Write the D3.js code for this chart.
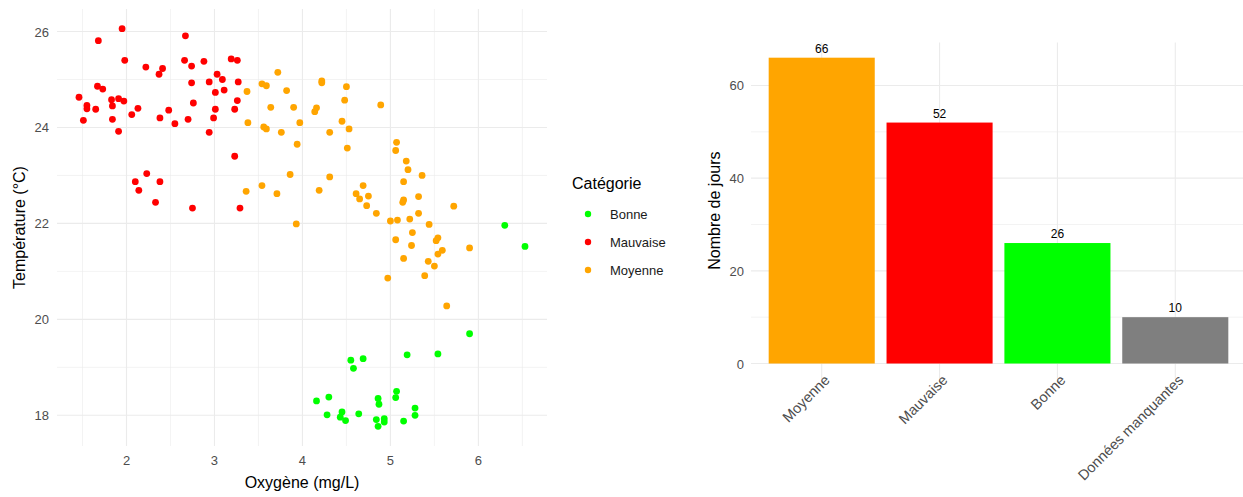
<!DOCTYPE html>
<html>
<head>
<meta charset="utf-8">
<script src="https://cdn.jsdelivr.net/npm/d3@7"></script>
<style>
  body { margin: 0; background: #fff; }
  svg { font-family: "Liberation Sans", Arial, sans-serif; }
</style>
</head>
<body>
<svg width="1243" height="497"></svg>
<script>
// scatter data: [oxygene, temperature]
var mauvaise = [
  [1.95,26.06],[1.68,25.81],[2.67,25.91],[1.98,25.40],[2.22,25.26],[2.41,25.23],[2.37,25.11],
  [2.66,25.40],[2.74,25.28],[2.88,25.38],[3.19,25.43],[3.26,25.40],[3.03,25.11],[3.09,25.00],
  [2.94,24.95],[2.74,24.93],[3.27,24.95],[3.01,24.73],[3.11,24.78],[1.67,24.86],[1.73,24.80],
  [1.46,24.63],[1.83,24.58],[1.91,24.60],[1.97,24.55],[1.55,24.46],[1.55,24.39],[1.65,24.38],
  [1.84,24.45],[2.13,24.40],[2.06,24.27],[1.51,24.15],[1.84,24.17],[1.91,23.92],[2.38,24.20],
  [2.48,24.36],[2.55,24.08],[2.70,24.17],[2.76,24.51],[2.99,24.20],[3.01,24.38],[2.94,23.90],
  [3.26,24.56],[3.23,24.38],[3.23,23.40],[2.23,23.04],[2.10,22.87],[2.38,22.87],[2.14,22.69],
  [2.33,22.44],[2.75,22.32],[3.29,22.32]
];
var moyenne = [
  [3.37,24.75],[3.38,24.10],[3.72,25.15],[3.54,24.91],[3.59,24.87],[3.82,24.77],[3.64,24.42],
  [3.90,24.42],[4.22,24.97],[4.22,24.93],[4.50,24.85],[4.48,24.57],[4.16,24.41],[4.14,24.33],
  [4.89,24.47],[4.45,24.13],[4.53,23.97],[4.31,23.90],[3.97,24.10],[3.56,24.01],[3.59,23.97],
  [3.76,23.90],[3.94,23.65],[4.51,23.57],[3.86,23.02],[4.31,22.97],[3.54,22.79],[3.36,22.67],
  [3.71,22.62],[4.19,22.69],[4.69,22.79],[4.61,22.62],[4.75,22.57],[4.65,22.51],[4.73,22.37],
  [4.84,22.21],[3.93,21.99],[5.07,23.69],[5.06,23.52],[5.18,23.30],[5.20,23.12],[5.36,23.00],
  [5.15,22.87],[5.32,22.56],[5.14,22.44],[5.15,22.49],[5.72,22.36],[5.00,22.05],[5.08,22.07],
  [5.22,22.09],[5.32,22.21],[5.44,21.98],[5.25,21.81],[5.06,21.66],[5.54,21.70],[5.52,21.64],
  [5.24,21.54],[5.59,21.44],[5.90,21.49],[5.54,21.36],[5.15,21.27],[5.43,21.21],[5.50,21.11],
  [5.39,20.91],[4.97,20.86],[5.64,20.28]
];
var bonne = [
  [6.30,21.96],[6.53,21.52],[5.90,19.70],[5.19,19.26],[5.54,19.28],[4.55,19.15],[4.69,19.18],
  [4.58,18.98],[5.07,18.50],[5.06,18.37],[4.16,18.30],[4.30,18.38],[4.86,18.35],[4.87,18.23],
  [5.28,18.15],[5.28,18.00],[4.28,18.01],[4.45,18.07],[4.43,17.96],[4.49,17.89],[4.64,18.03],
  [4.84,17.91],[4.93,17.93],[4.93,17.86],[4.86,17.77],[5.15,17.88]
];
var legendLabels = ["Bonne", "Mauvaise", "Moyenne"];
var xTicks = [2, 3, 4, 5, 6];
var yTicks = [18, 20, 22, 24, 26];

// bar data
var barCategories = ["Moyenne", "Mauvaise", "Bonne", "Données manquantes"];
var barCounts = [66, 52, 26, 10];
var barTicks = [0, 20, 40, 60];

var colors = { "Bonne": "#00ff00", "Mauvaise": "#ff0000", "Moyenne": "#ffa500", "Données manquantes": "#7f7f7f" };
var gridCol = "#ebebeb", tickCol = "#4d4d4d";

var svg = d3.select("svg");

// ---------- scatter ----------
var x = d3.scaleLinear().domain([1.21, 6.78]).range([57, 547]);
var y = d3.scaleLinear().domain([17.36, 26.47]).range([446, 9]);

var g1 = svg.append("g");
var xMinor = d3.range(1.5, 7, 1), yMinor = d3.range(19, 27, 2);

g1.selectAll(".vminor").data(xMinor).enter().append("line")
  .attr("x1", d => x(d)).attr("x2", d => x(d)).attr("y1", 9).attr("y2", 446)
  .attr("stroke", gridCol).attr("stroke-width", 0.6);
g1.selectAll(".hminor").data(yMinor).enter().append("line")
  .attr("y1", d => y(d)).attr("y2", d => y(d)).attr("x1", 57).attr("x2", 547)
  .attr("stroke", gridCol).attr("stroke-width", 0.6);
g1.selectAll(".vmajor").data(xTicks).enter().append("line")
  .attr("x1", d => x(d)).attr("x2", d => x(d)).attr("y1", 9).attr("y2", 446)
  .attr("stroke", gridCol).attr("stroke-width", 1.1);
g1.selectAll(".hmajor").data(yTicks).enter().append("line")
  .attr("y1", d => y(d)).attr("y2", d => y(d)).attr("x1", 57).attr("x2", 547)
  .attr("stroke", gridCol).attr("stroke-width", 1.1);

g1.selectAll(".xt").data(xTicks).enter().append("text")
  .attr("x", d => x(d)).attr("y", 465).attr("text-anchor", "middle")
  .attr("font-size", "13px").attr("fill", tickCol).text(d => d);
g1.selectAll(".yt").data(yTicks).enter().append("text")
  .attr("x", 49).attr("y", d => y(d) + 5).attr("text-anchor", "end")
  .attr("font-size", "13px").attr("fill", tickCol).text(d => d);

var groups = [["Mauvaise", mauvaise], ["Moyenne", moyenne], ["Bonne", bonne]];
groups.forEach(function(gr) {
  g1.selectAll(".pt-" + gr[0]).data(gr[1]).enter().append("circle")
    .attr("cx", d => x(d[0])).attr("cy", d => y(d[1])).attr("r", 3.4)
    .attr("fill", colors[gr[0]]);
});

g1.append("text").attr("x", (57 + 547) / 2).attr("y", 488).attr("text-anchor", "middle")
  .attr("font-size", "16px").attr("fill", "#000").text("Oxygène (mg/L)");
g1.append("text").attr("transform", "translate(25," + (9 + 446) / 2 + ") rotate(-90)")
  .attr("text-anchor", "middle").attr("font-size", "16px").attr("fill", "#000")
  .text("Température (°C)");

// legend
var lg = svg.append("g");
lg.append("text").attr("x", 572).attr("y", 189).attr("font-size", "16px").text("Catégorie");
legendLabels.forEach(function(l, i) {
  lg.append("circle").attr("cx", 588).attr("cy", 214 + i * 28).attr("r", 3.2).attr("fill", colors[l]);
  lg.append("text").attr("x", 610).attr("y", 219 + i * 28).attr("font-size", "13px").attr("fill", "#1a1a1a").text(l);
});

// ---------- bars ----------
var bx = d3.scaleBand().domain(barCategories).range([751, 1246]).paddingInner(0.1).paddingOuter(0.15);
var by = d3.scaleLinear().domain([-3.3, 69.3]).range([378.8, 42.4]);
var g2 = svg.append("g");
var barMinor = [10, 30, 50];

g2.selectAll(".bh2").data(barMinor).enter().append("line")
  .attr("y1", d => by(d)).attr("y2", d => by(d)).attr("x1", 751).attr("x2", 1246)
  .attr("stroke", gridCol).attr("stroke-width", 0.6);
g2.selectAll(".bh").data(barTicks).enter().append("line")
  .attr("y1", d => by(d)).attr("y2", d => by(d)).attr("x1", 751).attr("x2", 1246)
  .attr("stroke", gridCol).attr("stroke-width", 1.1);
g2.selectAll(".bv").data(barCategories).enter().append("line")
  .attr("x1", d => bx(d) + bx.bandwidth() / 2).attr("x2", d => bx(d) + bx.bandwidth() / 2)
  .attr("y1", 42.4).attr("y2", 378.8).attr("stroke", gridCol).attr("stroke-width", 1.1);

g2.selectAll(".bar").data(barCategories).enter().append("rect")
  .attr("x", d => bx(d)).attr("width", bx.bandwidth())
  .attr("y", (d, i) => by(barCounts[i])).attr("height", (d, i) => by(0) - by(barCounts[i]))
  .attr("fill", d => colors[d]);

g2.selectAll(".val").data(barCategories).enter().append("text")
  .attr("x", d => bx(d) + bx.bandwidth() / 2).attr("y", (d, i) => by(barCounts[i]) - 5)
  .attr("text-anchor", "middle").attr("font-size", "12px").attr("fill", "#000")
  .text((d, i) => barCounts[i]);

g2.selectAll(".byt").data(barTicks).enter().append("text")
  .attr("x", 744).attr("y", d => by(d) + 5).attr("text-anchor", "end")
  .attr("font-size", "13px").attr("fill", tickCol).text(d => d);

g2.selectAll(".bxt").data(barCategories).enter().append("text")
  .attr("transform", d => "translate(" + (bx(d) + bx.bandwidth() / 2 + 9) + ",381) rotate(-45)")
  .attr("text-anchor", "end").attr("font-size", "14.5px").attr("fill", tickCol).text(d => d);

g2.append("text").attr("transform", "translate(720," + (42.4 + 378.8) / 2 + ") rotate(-90)")
  .attr("text-anchor", "middle").attr("font-size", "16px").attr("fill", "#000")
  .text("Nombre de jours");
</script>
</body>
</html>
